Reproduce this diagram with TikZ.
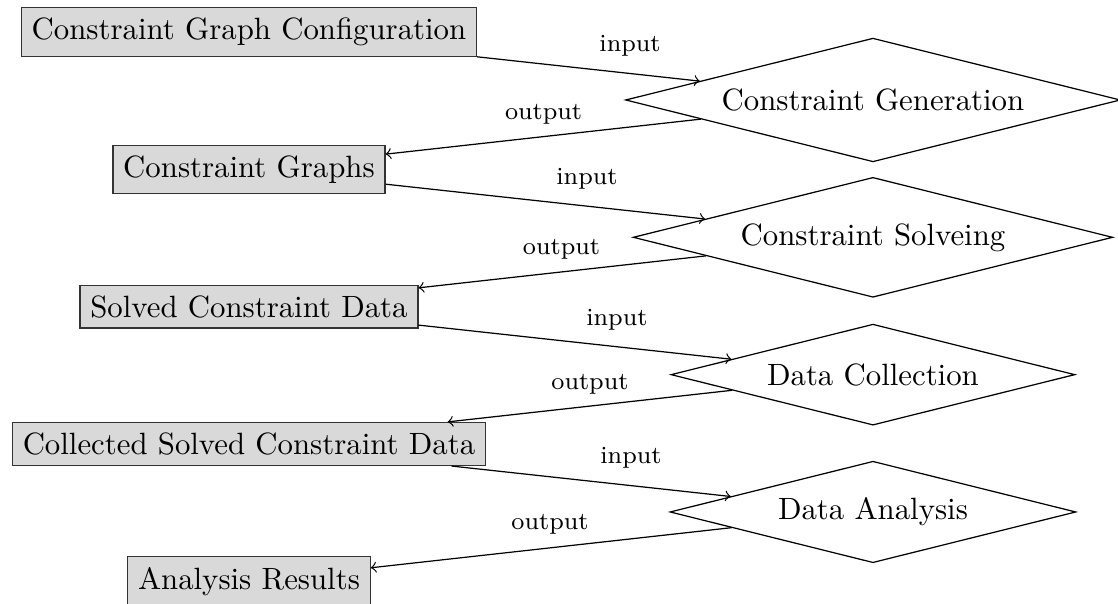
\documentclass[tikz,border=0pt]{standalone}
\usepackage{tikz}
\usetikzlibrary{shapes.geometric,positioning}

\begin{document}
\begin{tikzpicture}[>=to,
  databox/.style={draw=black!80, fill=gray!30},
  stage/.style={draw, diamond, aspect=4},
  lbl/.style={font=\footnotesize}]
  \useasboundingbox (-2.841,0.365) rectangle (9.916,-6.516);
  % data sets on the left, processing stages on the right
  \foreach \i/\t in {1/Constraint Graph Configuration,2/Constraint Graphs,3/Solved Constraint Data,4/Collected Solved Constraint Data,5/Analysis Results}{
    \node[databox] (b\i) at (0,{-1.567*(\i-1)}) {\t};}
  \foreach \i/\t in {1/Constraint Generation,2/Constraint Solveing,3/Data Collection,4/Data Analysis}{
    \node[stage] (d\i) at (7.12,{-0.776-1.567*(\i-1)}) {\t};}
  % input / output connectors
  \foreach \i/\j/\ip/\op in {1/2/{4.348,-0.160}/{3.361,-0.936},2/3/{3.857,-1.677}/{3.566,-2.476},3/4/{4.199,-3.286}/{3.891,-4.017},4/5/{4.359,-4.861}/{3.435,-5.614}}{
    \draw[->] (b\i) -- (d\i);
    \draw[->] (d\i) -- (b\j);
    \node[lbl] (in\i) at (\ip) {input};
    \node[lbl] (out\i) at (\op) {output};
  }
\end{tikzpicture}
\end{document}
